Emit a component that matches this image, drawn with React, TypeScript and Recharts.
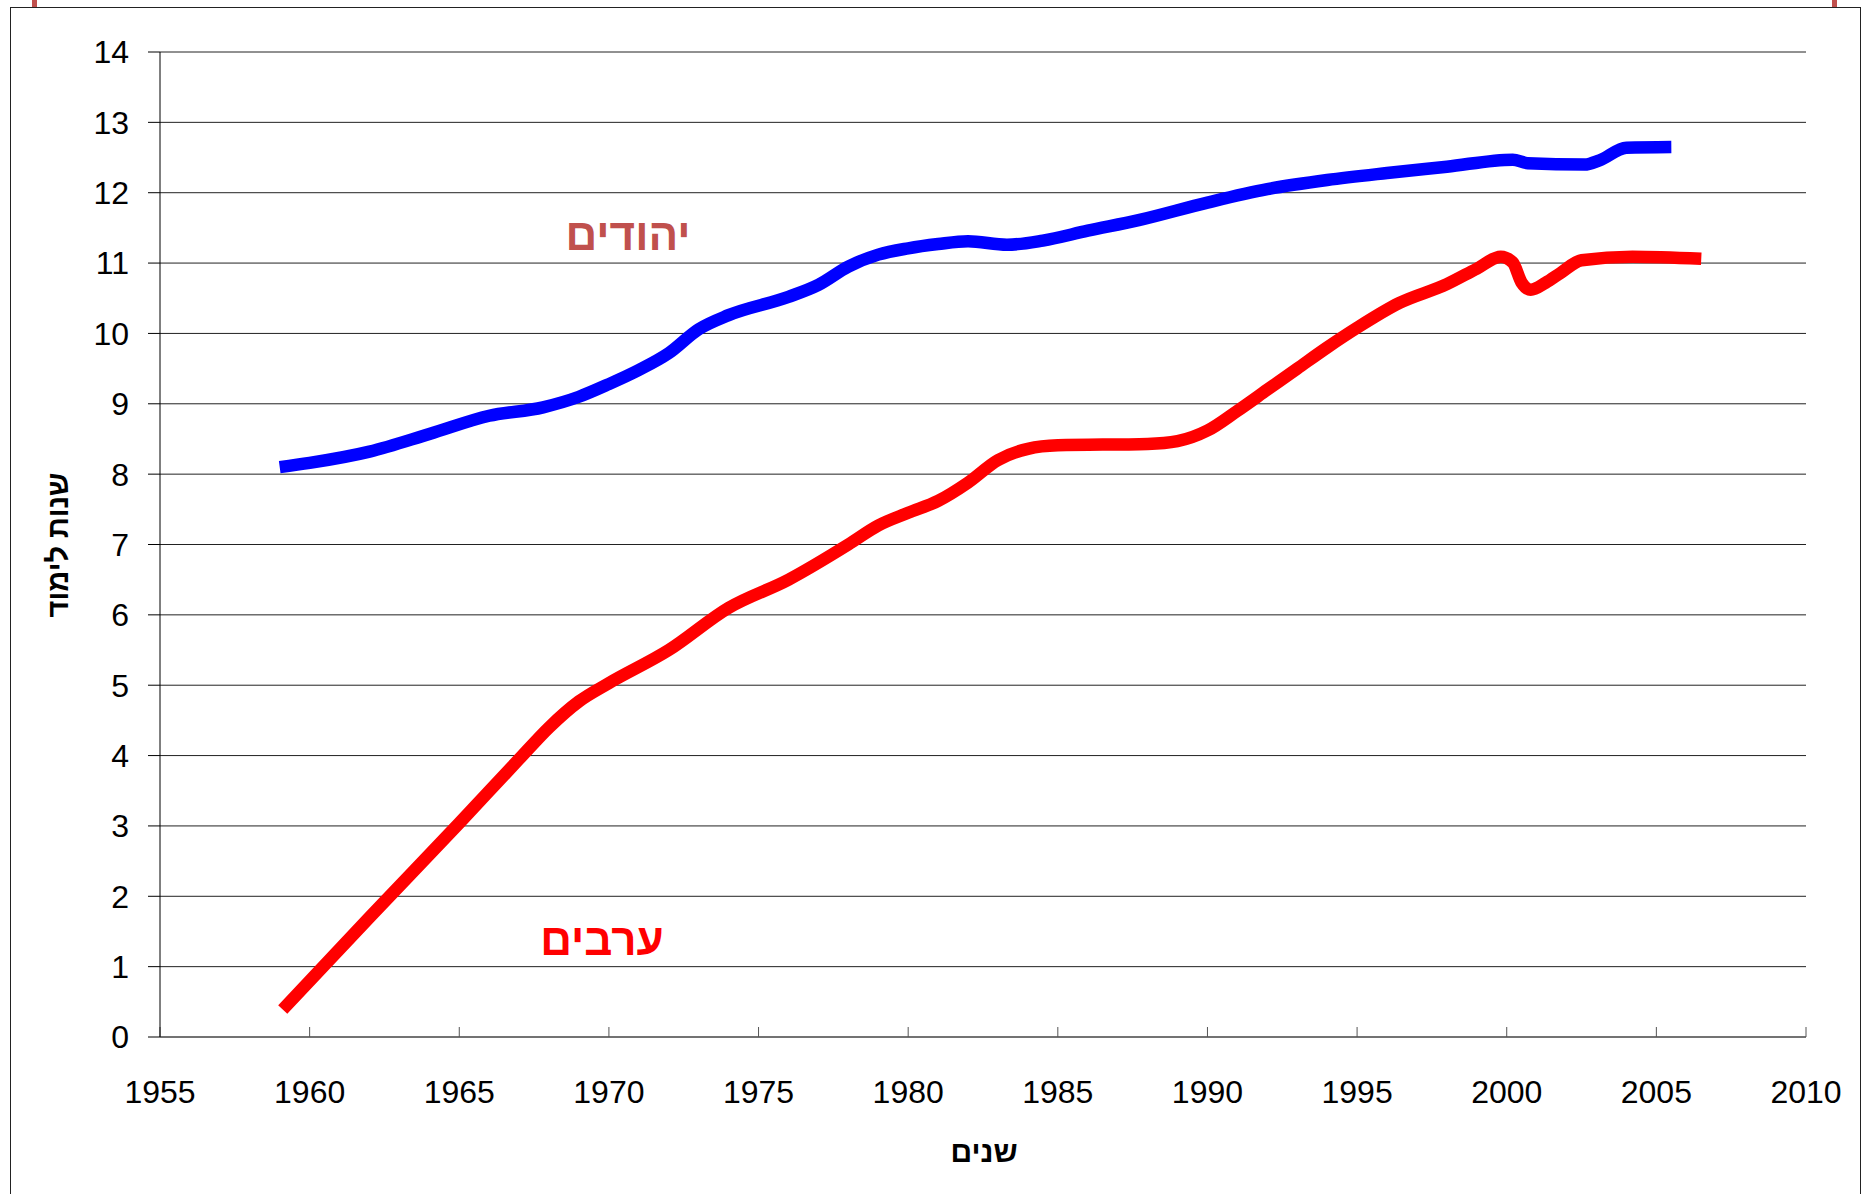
import React from 'react';
import { LineChart, Line, XAxis, YAxis, CartesianGrid } from 'recharts';

const jewsYears = [1959.0, 1960, 1962, 1964, 1966, 1967.8, 1969, 1970, 1971, 1972, 1973, 1974, 1976, 1977, 1978, 1979, 1980, 1981, 1982, 1983.3, 1984.5, 1986, 1987.7, 1990, 1992, 1994, 1996, 1998, 2000.2, 2000.7, 2002.6, 2003.1, 2004, 2005.5];
const jewsValues = [8.1, 8.16, 8.32, 8.57, 8.83, 8.95, 9.1, 9.28, 9.48, 9.72, 10.06, 10.26, 10.52, 10.69, 10.95, 11.12, 11.21, 11.27, 11.31, 11.26, 11.32, 11.46, 11.61, 11.86, 12.05, 12.18, 12.28, 12.37, 12.47, 12.42, 12.4, 12.46, 12.64, 12.65];

const arabsYears = [1959.1, 1962, 1965, 1967, 1968, 1969, 1970, 1972, 1974, 1976, 1978, 1979, 1980, 1981, 1982, 1983, 1984, 1985, 1988, 1989, 1990, 1991, 1992, 1993, 1994, 1995, 1996.4, 1998, 1999, 1999.8, 2000.2, 2000.5, 2000.8, 2001.3, 2001.8, 2002.5, 2004.2, 2006.5];
const arabsValues = [0.39, 1.7, 3.04, 3.95, 4.4, 4.77, 5.03, 5.5, 6.1, 6.5, 7.0, 7.27, 7.45, 7.62, 7.88, 8.2, 8.36, 8.41, 8.43, 8.47, 8.62, 8.9, 9.2, 9.5, 9.8, 10.08, 10.43, 10.7, 10.92, 11.09, 11.01, 10.72, 10.62, 10.72, 10.86, 11.04, 11.09, 11.06];

const xTicks = [1955, 1960, 1965, 1970, 1975, 1980, 1985, 1990, 1995, 2000, 2005, 2010];
const yTicks = [0, 1, 2, 3, 4, 5, 6, 7, 8, 9, 10, 11, 12, 13, 14];

const jewsLabel = 'יהודים';
const arabsLabel = 'ערבים';
const yTitle = 'שנות לימוד';
const xTitle = 'שנים';

const jewsData = jewsYears.map((year, i) => ({ year, value: jewsValues[i] }));
const arabsData = arabsYears.map((year, i) => ({ year, value: arabsValues[i] }));

const FONT = '"Liberation Sans", Arial, "DejaVu Sans", sans-serif';

export default function App() {
  return (
    <div style={{ position: 'absolute', left: 0, top: 0, width: 1863, height: 1194, background: '#fff', overflow: 'hidden', fontFamily: FONT }}>
      <div style={{ position: 'absolute', left: 10, top: 7, width: 1851, height: 1200, border: '1.5px solid #222', boxSizing: 'border-box' }} />
      <div style={{ position: 'absolute', left: 32, top: 0, width: 5, height: 7, background: '#C0504D' }} />
      <div style={{ position: 'absolute', left: 1832, top: 0, width: 5, height: 7, background: '#C0504D' }} />
      <div style={{ position: 'absolute', left: 0, top: 0 }}>
        <LineChart width={1863} height={1194} margin={{ top: 52, right: 57, bottom: 0, left: 0 }}>
          <CartesianGrid vertical={false} stroke="#222" strokeWidth={1} horizontalValues={yTicks} />
          <XAxis
            type="number"
            dataKey="year"
            domain={[1955, 2010]}
            ticks={xTicks}
            interval={0}
            height={157}
            tickSize={-10}
            tickMargin={53}
            stroke="#555"
            tick={{ fill: '#000', fontSize: 32, fontFamily: FONT }}
            allowDuplicatedCategory={false}
          />
          <YAxis
            type="number"
            domain={[0, 14]}
            ticks={yTicks}
            interval={0}
            width={160}
            tickSize={12}
            tickMargin={19}
            stroke="#000"
            tick={{ fill: '#000', fontSize: 32, fontFamily: FONT }}
          />
          <Line data={jewsData} dataKey="value" type="monotone" stroke="#0000FF" strokeWidth={12.5} dot={false} activeDot={false} isAnimationActive={false} strokeLinejoin="round" />
          <Line data={arabsData} dataKey="value" type="monotone" stroke="#FF0000" strokeWidth={12.5} dot={false} activeDot={false} isAnimationActive={false} strokeLinejoin="round" />
        </LineChart>
      </div>
      <div style={{ position: 'absolute', left: 628, top: 235, transform: 'translate(-50%, -50%)', color: '#C0504D', fontWeight: 'bold', fontSize: 44, whiteSpace: 'nowrap', direction: 'rtl' }}>{jewsLabel}</div>
      <div style={{ position: 'absolute', left: 602, top: 940, transform: 'translate(-50%, -50%)', color: '#FF0000', fontWeight: 'bold', fontSize: 44, whiteSpace: 'nowrap', direction: 'rtl' }}>{arabsLabel}</div>
      <div style={{ position: 'absolute', left: 58, top: 545, transform: 'translate(-50%, -50%) rotate(-90deg)', color: '#000', fontWeight: 'bold', fontSize: 29, whiteSpace: 'nowrap', direction: 'rtl' }}>{yTitle}</div>
      <div style={{ position: 'absolute', left: 984, top: 1152, transform: 'translate(-50%, -50%)', color: '#000', fontWeight: 'bold', fontSize: 30, whiteSpace: 'nowrap', direction: 'rtl' }}>{xTitle}</div>
    </div>
  );
}
